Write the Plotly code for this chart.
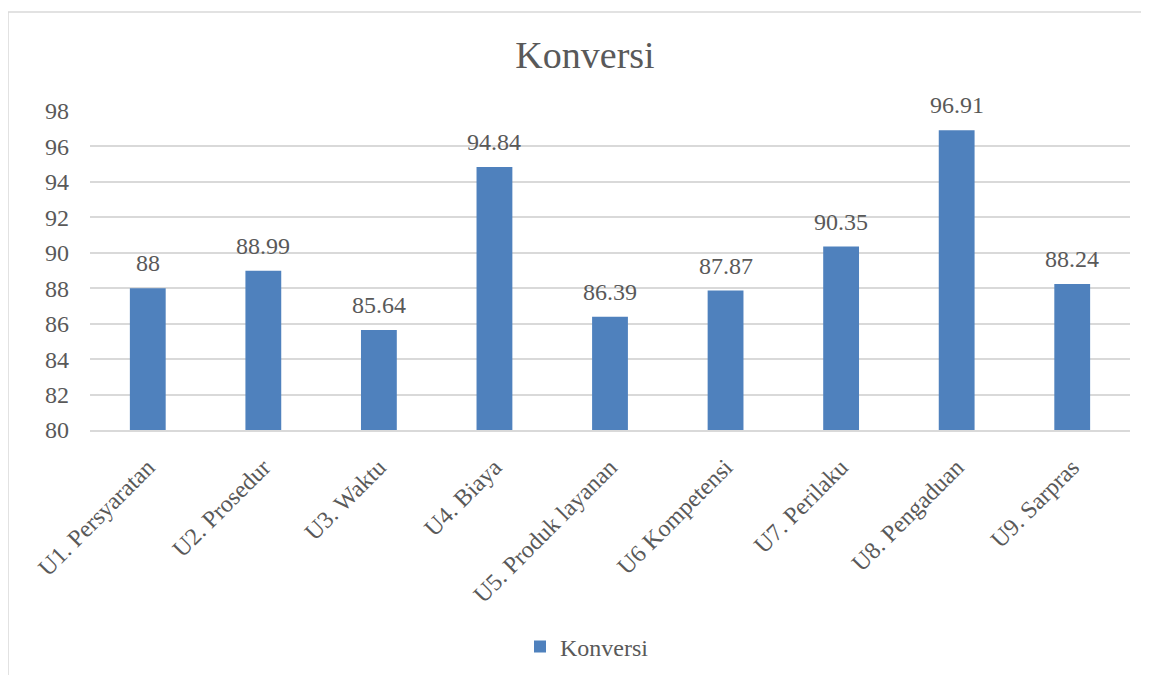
import plotly.graph_objects as go

categories = ["U1. Persyaratan", "U2. Prosedur", "U3. Waktu", "U4. Biaya",
              "U5. Produk layanan", "U6 Kompetensi", "U7. Perilaku",
              "U8. Pengaduan", "U9. Sarpras"]
values = [88.0, 88.99, 85.64, 94.84, 86.39, 87.87, 90.35, 96.91, 88.24]
y_ticks = [80, 82, 84, 86, 88, 90, 92, 94, 96, 98]
series_name = "Konversi"
title_text = "Konversi"

FONT = "Liberation Serif, DejaVu Serif, serif"
TXT = "#595959"
GRID = "#D9D9D9"
BAR = "#4F81BD"

# page body adds an 8px offset; compensate in the margins
OFF = 8
W, H = 1149, 675
L, R, T, B = 90 - OFF, 19 + OFF, 111 - OFF, 245 + OFF
pw, ph = W - L - R, H - T - B
top_px = T + OFF  # page y of plot top


def py(page_y):
    return (top_px + ph - page_y) / ph


def px(page_x):
    return (page_x - (L + OFF)) / pw


fig = go.Figure()
fig.add_trace(go.Bar(x=categories, y=values, name=series_name,
                     marker=dict(color=BAR, line=dict(width=0)),
                     showlegend=True))

for c, v in zip(categories, values):
    fig.add_annotation(x=c, y=v, text="{:g}".format(v), showarrow=False,
                       yanchor="middle", yshift=25,
                       font=dict(family=FONT, size=24, color=TXT))

fig.add_shape(type="rect", xref="paper", yref="paper",
              x0=px(8), x1=px(W + 10), y0=py(H + 10), y1=py(12),
              line=dict(color=GRID, width=1.5), fillcolor="rgba(0,0,0,0)",
              layer="below")

fig.update_layout(
    width=W, height=H,
    margin=dict(l=L, r=R, t=T, b=B),
    paper_bgcolor="white", plot_bgcolor="white",
    font=dict(family=FONT, color=TXT, size=24),
    title=dict(text=title_text, x=(585 - OFF) / W, xanchor="center", xref="container",
               y=1 - (55 - OFF) / H, yanchor="middle", yref="container",
               font=dict(family=FONT, size=38, color=TXT)),
    bargap=0.69,
    showlegend=True,
    legend=dict(orientation="h", x=px(587), xanchor="center",
                y=py(647), yanchor="middle",
                font=dict(family=FONT, size=24, color=TXT),
                itemwidth=30),
)
fig.update_xaxes(showgrid=False, showline=True, linecolor=GRID, linewidth=1.5,
                 tickangle=-45, ticks="", ticklabelstandoff=12,
                 tickfont=dict(family=FONT, size=24, color=TXT))
fig.update_yaxes(range=[80, 98], tickvals=y_ticks, showgrid=True,
                 gridcolor=GRID, gridwidth=1.5, zeroline=False, showline=False,
                 ticks="", ticklabelstandoff=20,
                 tickfont=dict(family=FONT, size=24, color=TXT))

fig.write_html("out.html")
